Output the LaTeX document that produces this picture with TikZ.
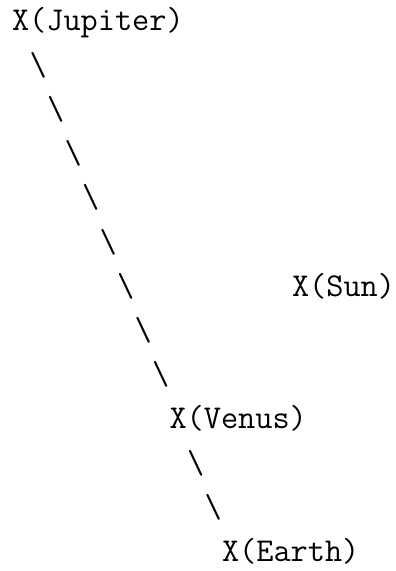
\documentclass[tikz,border=0pt]{standalone}
\usepackage{tikz}
\usetikzlibrary{positioning}

\tikzset{
  glyph/.style={inner sep=0pt, outer sep=0pt, anchor=base west,
    font=\ttfamily\fontsize{16.67pt}{20pt}\selectfont},
}

\begin{document}
\begin{tikzpicture}[x=8.75pt, y=22.1pt]
% Frame: one column = one character cell, one row = one text line
\useasboundingbox (-6pt,15.5pt) rectangle (191.5pt,-270pt);

% Bodies
\node[glyph] (jupiter) at (0,0)   {X(Jupiter)};
\node[glyph] (sun)     at (16,-6) {X(Sun)};
\node[glyph] (venus)   at (9,-9)  {X(Venus)};
\node[glyph] (earth)   at (12,-12) {X(Earth)};

% Backslash trail from Jupiter down to Venus
\foreach \r in {1,...,8} {
    \node[glyph] (slash\r) at (\r,-\r) {\textbackslash};
}
% Backslash trail from Venus down to Earth
\foreach \r in {10,11} {
    \node[glyph] (slash\r) at (\r,-\r) {\textbackslash};
}
\end{tikzpicture}
\end{document}
